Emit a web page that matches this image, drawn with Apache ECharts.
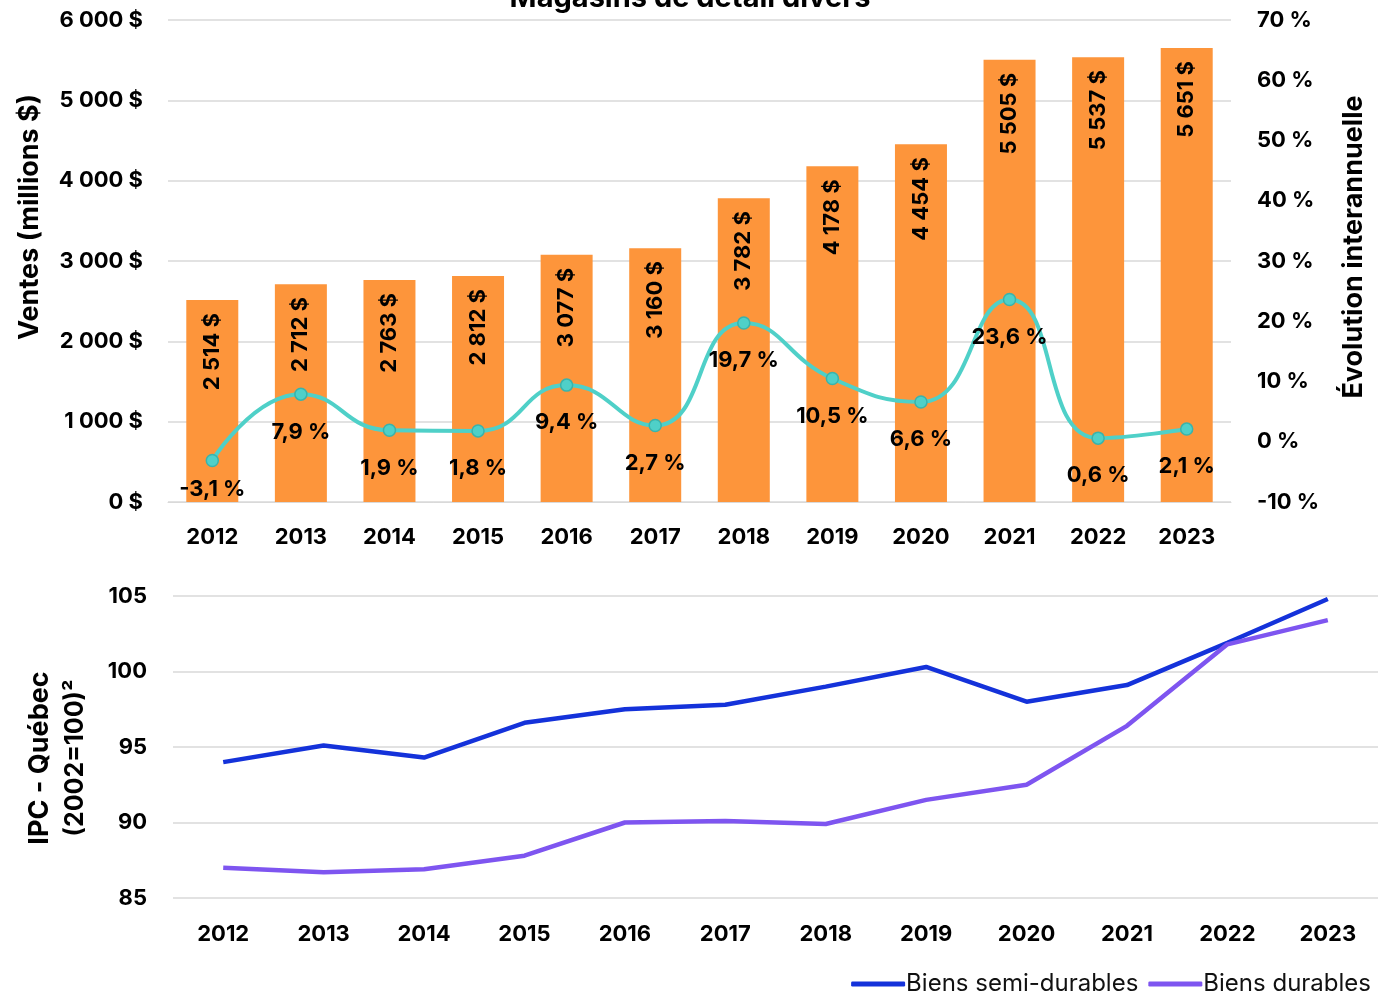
<!DOCTYPE html>
<html>
<head>
<meta charset="utf-8">
<script src="https://cdn.jsdelivr.net/npm/echarts@6/dist/echarts.min.js"></script>
<style>
  html, body { margin: 0; padding: 0; background: #ffffff; }
  #chart { width: 1388px; height: 995px; }
</style>
</head>
<body>
<div id="chart"></div>
<script>
// Années
const years = ['2012', '2013', '2014', '2015', '2016', '2017', '2018', '2019', '2020', '2021', '2022', '2023'];
// Ventes annuelles (millions $)
const ventes = [2514, 2712, 2763, 2812, 3077, 3160, 3782, 4178, 4454, 5505, 5537, 5651];
// Évolution interannuelle (%)
const evolution = [-3.1, 7.9, 1.9, 1.8, 9.4, 2.7, 19.7, 10.5, 6.6, 23.6, 0.6, 2.1];
// IPC - Québec (2002=100)
const ipcSemiDurables = [94.0, 95.1, 94.3, 96.6, 97.5, 97.8, 99.0, 100.3, 98.0, 99.1, 101.9, 104.8];
const ipcDurables = [87.0, 86.7, 86.9, 87.8, 90.0, 90.1, 89.9, 91.5, 92.5, 96.4, 101.8, 103.4];

const FONT = 'Inter, "Liberation Sans", Arial, sans-serif';
const GRID_COLOR = '#d9d9d9';

function milliers(v) {
  return String(Math.round(v)).replace(/\B(?=(\d{3})+(?!\d))/g, '\u00a0');
}
function pct(v) {
  return String(v).replace('.', ',') + '\u00a0%';
}

const chart = echarts.init(document.getElementById('chart'), null, { renderer: 'canvas' });

const axisLabelBold = { color: '#000', fontFamily: FONT, fontWeight: 'bold', fontSize: 22 };

// Étiquettes de variation : la première, proche du bas du graphique, est rapprochée du point
const evolutionData = evolution.map((v, i) => (
  i === 0 ? { value: v, label: { distance: 11 } } : v
));

chart.setOption({
  backgroundColor: '#ffffff',
  animation: false,
  graphic: [
    {
      type: 'text', x: 690, y: 13,
      style: { text: 'Magasins de détail divers', font: 'bold 29px ' + FONT, fill: '#000',
               textAlign: 'center', textVerticalAlign: 'bottom' }
    },
    {
      type: 'text', x: 30, y: 217, rotation: Math.PI / 2,
      style: { text: 'Ventes (millions $)', font: 'bold 27px ' + FONT, fill: '#000',
               textAlign: 'center', textVerticalAlign: 'middle' }
    },
    {
      type: 'text', x: 1354, y: 247, rotation: Math.PI / 2,
      style: { text: 'Évolution interannuelle', font: 'bold 27px ' + FONT, fill: '#000',
               textAlign: 'center', textVerticalAlign: 'middle' }
    },
    {
      type: 'text', x: 40, y: 758, rotation: Math.PI / 2,
      style: { text: 'IPC - Québec', font: 'bold 27px ' + FONT, fill: '#000',
               textAlign: 'center', textVerticalAlign: 'middle' }
    },
    {
      type: 'text', x: 75, y: 758, rotation: Math.PI / 2,
      style: { text: '(2002=100)²', font: 'bold 25px ' + FONT, fill: '#000',
               textAlign: 'center', textVerticalAlign: 'middle' }
    }
  ],
  legend: {
    right: 12, top: 967,
    itemWidth: 54, itemHeight: 5, itemGap: 10,
    icon: 'roundRect',
    textStyle: { fontFamily: 'Inter, "Noto Sans", sans-serif', fontSize: 24, color: '#111', padding: [0, 0, 0, -4] },
    data: ['Biens semi-durables', 'Biens durables']
  },
  grid: [
    { left: 168, right: 157, top: 20, bottom: 493, containLabel: false },
    { left: 173, right: 10, top: 596, bottom: 97, containLabel: false }
  ],
  xAxis: [
    {
      type: 'category', gridIndex: 0, data: years,
      axisLine: { show: true, lineStyle: { color: GRID_COLOR } },
      axisTick: { show: false },
      axisLabel: Object.assign({ margin: 24 }, axisLabelBold)
    },
    {
      type: 'category', gridIndex: 1, data: years,
      axisLine: { show: false },
      axisTick: { show: false },
      axisLabel: Object.assign({ margin: 25 }, axisLabelBold)
    }
  ],
  yAxis: [
    {
      type: 'value', gridIndex: 0, min: 0, max: 6000, interval: 1000,
      axisLine: { show: false }, axisTick: { show: false },
      splitLine: { lineStyle: { color: GRID_COLOR, width: 1.5 } },
      axisLabel: Object.assign({ margin: 25, formatter: v => milliers(v) + '\u00a0$' }, axisLabelBold)
    },
    {
      type: 'value', gridIndex: 0, min: -10, max: 70, interval: 10, position: 'right',
      axisLine: { show: false }, axisTick: { show: false },
      splitLine: { show: false },
      axisLabel: Object.assign({ margin: 26, formatter: v => v + '\u00a0%' }, axisLabelBold)
    },
    {
      type: 'value', gridIndex: 1, min: 85, max: 105, interval: 5,
      axisLine: { show: false }, axisTick: { show: false },
      splitLine: { lineStyle: { color: GRID_COLOR, width: 1.5 } },
      axisLabel: Object.assign({ margin: 26 }, axisLabelBold)
    }
  ],
  series: [
    {
      name: 'Ventes', type: 'bar', xAxisIndex: 0, yAxisIndex: 0,
      data: ventes, barWidth: 52,
      itemStyle: { color: '#FD953B' },
      label: {
        show: true, position: 'insideTop', rotate: 90, distance: 13,
        align: 'right', verticalAlign: 'middle',
        formatter: p => milliers(p.value) + '\u00a0$',
        color: '#000', fontFamily: FONT, fontWeight: 'bold', fontSize: 22
      },
      z: 1
    },
    {
      name: 'Évolution', type: 'line', xAxisIndex: 0, yAxisIndex: 1,
      data: evolutionData, smooth: 0.5,
      lineStyle: { color: '#4FD0C8', width: 4 },
      symbol: 'circle', symbolSize: 12,
      itemStyle: { color: '#4FD0C8', borderColor: '#3AB3AB', borderWidth: 1.5 },
      label: {
        show: true, position: 'bottom', distance: 20,
        formatter: p => pct(p.value),
        color: '#000', fontFamily: FONT, fontWeight: 'bold', fontSize: 22
      },
      z: 3
    },
    {
      name: 'Biens semi-durables', type: 'line', xAxisIndex: 1, yAxisIndex: 2,
      data: ipcSemiDurables, symbol: 'none',
      lineStyle: { color: '#1432DA', width: 4.5 },
      itemStyle: { color: '#1432DA' }
    },
    {
      name: 'Biens durables', type: 'line', xAxisIndex: 1, yAxisIndex: 2,
      data: ipcDurables, symbol: 'none',
      lineStyle: { color: '#7E55F0', width: 4.5 },
      itemStyle: { color: '#7E55F0' }
    }
  ]
});
</script>
</body>
</html>
